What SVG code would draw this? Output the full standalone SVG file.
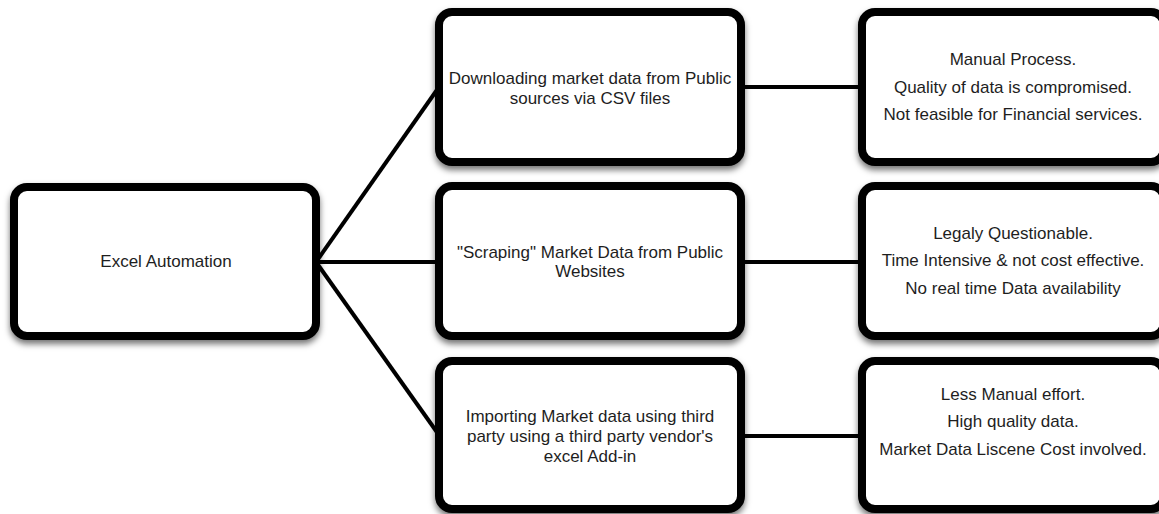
<svg xmlns="http://www.w3.org/2000/svg" width="1159" height="514" viewBox="0 0 1159 514">
  <defs>
    <filter id="shadow" x="-10%" y="-10%" width="120%" height="130%">
      <feDropShadow dx="0" dy="4" stdDeviation="3" flood-color="#000" flood-opacity="0.55"/>
    </filter>
  </defs>
  <style>
    .box { fill: #fff; stroke: #000; stroke-width: 8; filter: url(#shadow); }
    .conn { stroke: #000; stroke-width: 4; fill: none; }
    .lbl { font-family: "Liberation Sans", Arial, sans-serif; font-size: 17px; fill: #1e1e1e; text-anchor: middle; }
  </style>
  <rect width="1159" height="514" fill="#fff"/>

  <g id="connectors">
    <line class="conn" x1="316" y1="262" x2="439" y2="87"/>
    <line class="conn" x1="316" y1="262" x2="439" y2="262"/>
    <line class="conn" x1="316" y1="262" x2="439" y2="435"/>
    <line class="conn" x1="741" y1="87" x2="862" y2="87"/>
    <line class="conn" x1="741" y1="262" x2="862" y2="262"/>
    <line class="conn" x1="741" y1="436" x2="862" y2="436"/>
  </g>

  <g id="excel-automation">
    <rect class="box" x="14" y="187" width="302" height="149" rx="13"/>
    <text class="lbl" x="166" y="267">Excel Automation</text>
  </g>

  <g id="downloading">
    <rect class="box" x="439" y="12" width="302" height="150" rx="13"/>
    <text class="lbl" x="590" y="84">Downloading market data from Public</text>
    <text class="lbl" x="590" y="103.5">sources via CSV files</text>
  </g>

  <g id="scraping">
    <rect class="box" x="439" y="186" width="302" height="150" rx="13"/>
    <text class="lbl" x="590" y="257.5">"Scraping" Market Data from Public</text>
    <text class="lbl" x="590" y="277">Websites</text>
  </g>

  <g id="importing">
    <rect class="box" x="439" y="361" width="302" height="148" rx="13"/>
    <text class="lbl" x="590" y="422">Importing Market data using third</text>
    <text class="lbl" x="590" y="442">party using a third party vendor's</text>
    <text class="lbl" x="590" y="462">excel Add-in</text>
  </g>

  <g id="result-manual">
    <rect class="box" x="862" y="12" width="302" height="150" rx="13"/>
    <text class="lbl" x="1013" y="65">Manual Process.</text>
    <text class="lbl" x="1013" y="92.5">Quality of data is compromised.</text>
    <text class="lbl" x="1013" y="120">Not feasible for Financial services.</text>
  </g>

  <g id="result-legal">
    <rect class="box" x="862" y="186" width="302" height="150" rx="13"/>
    <text class="lbl" x="1013" y="238.5">Legaly Questionable.</text>
    <text class="lbl" x="1013" y="266">Time Intensive &amp; not cost effective.</text>
    <text class="lbl" x="1013" y="293.5">No real time Data availability</text>
  </g>

  <g id="result-vendor">
    <rect class="box" x="862" y="361" width="302" height="148" rx="13"/>
    <text class="lbl" x="1013" y="399.5">Less Manual effort.</text>
    <text class="lbl" x="1013" y="427">High quality data.</text>
    <text class="lbl" x="1013" y="454.5">Market Data Liscene Cost involved.</text>
  </g>
</svg>
